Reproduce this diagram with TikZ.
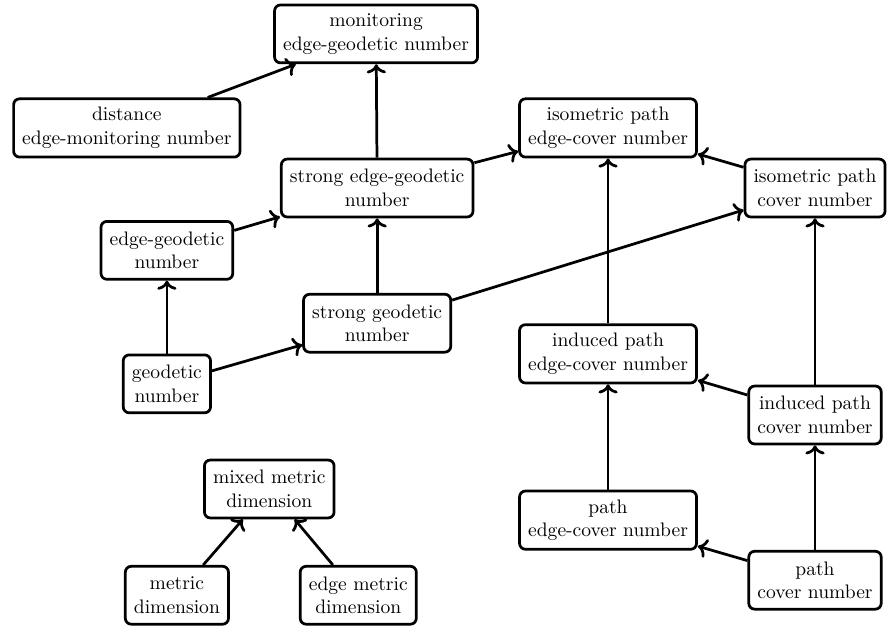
\documentclass[tikz,border=0pt]{standalone}
\usepackage{tikz}
\usetikzlibrary{arrows.meta, positioning}

\begin{document}
\begin{tikzpicture}[
    box/.style={draw, rounded corners=3pt, line width=1.4pt, align=center, inner sep=4.4pt, minimum height=29.6pt},
    arr/.style={->, line width=1.4pt}]
      \useasboundingbox (0,0) rectangle (16.07,-11.27);

      % Left: geodetic family
      \node[box] (mon) at (6.76,-0.61) {monitoring\\edge-geodetic number};
      \node[box] (dem) at (2.28,-2.30) {distance\\edge-monitoring number};
      \node[box] (seg) at (6.78,-3.38) {strong edge-geodetic\\number};
      \node[box] (eg) at (3.00,-4.50) {edge-geodetic\\number};
      \node[box] (sg) at (6.78,-5.81) {strong geodetic\\number};
      \node[box] (g) at (3.00,-6.90) {geodetic\\number};

      % Right: path covers
      \node[box] (ipe) at (10.93,-2.30) {isometric path\\edge-cover number};
      \node[box] (ip) at (14.65,-3.38) {isometric path\\cover number};
      \node[box] (ide) at (10.93,-6.36) {induced path\\edge-cover number};
      \node[box] (id) at (14.65,-7.46) {induced path\\cover number};
      \node[box] (pe) at (10.93,-9.35) {path\\edge-cover number};
      \node[box] (p) at (14.65,-10.43) {path\\cover number};

      % Bottom: metric dimensions
      \node[box] (mmd) at (4.84,-8.79) {mixed metric\\dimension};
      \node[box] (md) at (3.18,-10.70) {metric\\dimension};
      \node[box] (emd) at (6.44,-10.70) {edge metric\\dimension};

      % Arrows
      \draw[arr] (dem) -- (mon);
      \draw[arr] (seg) -- (mon);
      \draw[arr] (seg) -- (ipe);
      \draw[arr] (eg) -- (seg);
      \draw[arr] (sg) -- (seg);
      \draw[arr] (g) -- (eg);
      \draw[arr] (g) -- (sg);
      \draw[arr] (sg) -- (ip);
      \draw[arr] (ip) -- (ipe);
      \draw[arr] (ide) -- (ipe);
      \draw[arr] (id) -- (ip);
      \draw[arr] (id) -- (ide);
      \draw[arr] (pe) -- (ide);
      \draw[arr] (p) -- (id);
      \draw[arr] (p) -- (pe);
      \draw[arr] (md) -- (mmd);
      \draw[arr] (emd) -- (mmd);
    \end{tikzpicture}
\end{document}
